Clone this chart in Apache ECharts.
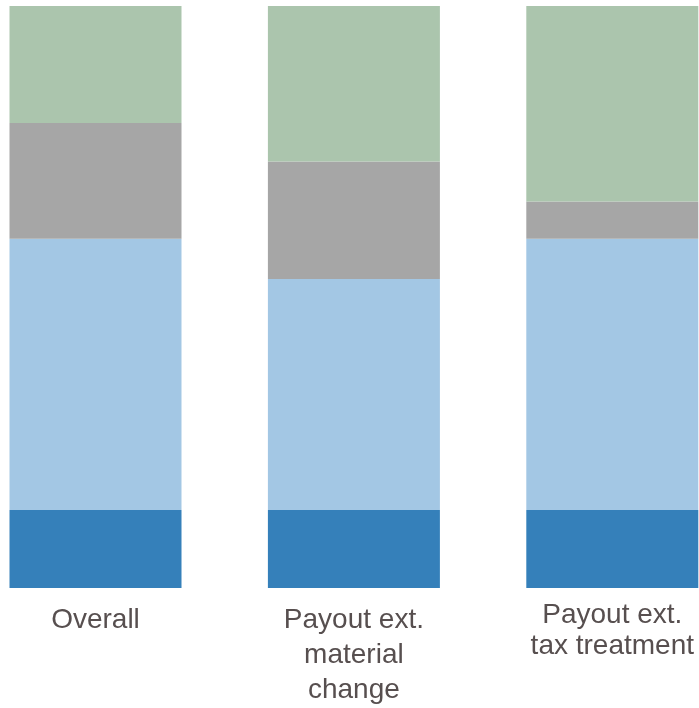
<!DOCTYPE html>
<html>
<head>
<meta charset="utf-8">
<style>
  html, body { margin: 0; padding: 0; background: #ffffff; overflow: hidden; width: 699px; height: 708px; }
  #wrap { position: relative; width: 699px; height: 708px; overflow: hidden; }
  /* plot area runs past both edges so the outer bars sit where they should */
  #chart { position: absolute; left: -34px; top: 0; width: 776px; height: 708px; }
</style>
<script src="https://cdn.jsdelivr.net/npm/echarts@6/dist/echarts.min.js"></script>
</head>
<body>
<div id="wrap"><div id="chart"></div></div>
<script>
// Category labels (multi-line)
var categories = ['Overall', 'Payout ext.\nmaterial\nchange', 'Payout ext.\ntax treatment'];

// Shares per category, stacked bottom to top (percent)
var darkBlue  = [13.4, 13.4, 13.4];
var lightBlue = [46.6, 39.7, 46.6];
var grey      = [19.9, 20.2, 6.4];
var green     = [20.1, 26.7, 33.6];

var labelFont = { fontFamily: 'Liberation Sans, Arial, sans-serif', fontSize: 28, color: '#574f4f' };

var axisData = categories.map(function (name) {
  var lines = name.split('\n').length;
  return {
    value: name,
    textStyle: lines === 2 ? { lineHeight: 31, padding: [0, 0, 0, 0] }
                           : { lineHeight: 35, padding: [3, 0, 0, 0] }
  };
});

function seg(name, data, color) {
  return {
    name: name,
    type: 'bar',
    stack: 'total',
    barWidth: 172,
    data: data,
    itemStyle: { color: color },
    emphasis: { disabled: true }
  };
}

var chart = echarts.init(document.getElementById('chart'), null, { renderer: 'canvas' });
chart.setOption({
  animation: false,
  backgroundColor: '#ffffff',
  grid: { left: 0.3, right: 0.5, top: 6, bottom: 120, containLabel: false },
  xAxis: {
    type: 'category',
    data: axisData,
    axisLine: { show: false },
    axisTick: { show: false },
    axisLabel: Object.assign({ interval: 0, margin: 12, hideOverlap: false, align: 'center' }, labelFont)
  },
  yAxis: {
    type: 'value',
    min: 0,
    max: 100,
    show: false
  },
  series: [
    seg('Dark blue', darkBlue, '#3580ba'),
    seg('Light blue', lightBlue, '#a3c7e4'),
    seg('Grey', grey, '#a6a6a6'),
    seg('Green', green, '#abc5ad')
  ]
});
</script>
</body>
</html>
